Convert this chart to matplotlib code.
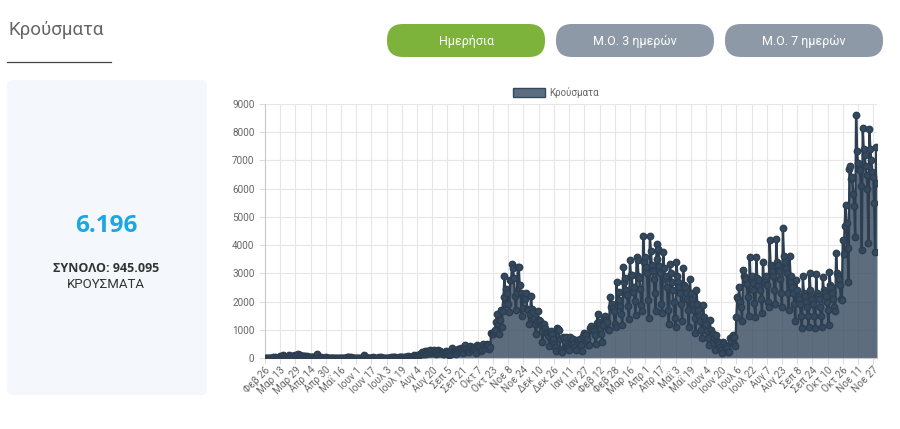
import matplotlib
matplotlib.use("Agg")
import matplotlib.pyplot as plt
from matplotlib.patches import FancyBboxPatch, Rectangle

# daily cases, 26 Feb 2020 .. 1 Dec 2021 (one row per month)
cases_2020 = [
    1, 2, 1, 0,
    0, 3, 0, 2, 22, 14, 21, 7, 11, 5, 10, 18, 73, 38, 23, 103, 56, 31, 46, 31, 35, 94, 71, 48, 78, 71, 71, 74, 95, 56, 102,
    129, 40, 103, 78, 62, 55, 77, 60, 52, 56, 20, 25, 21, 22, 24, 34, 26, 14, 17, 40, 156, 3, 27, 4, 30, 15, 9, 7, 15, 20,
    6, 11, 2, 10, 7, 6, 10, 5, 4, 0, 9, 10, 16, 3, 7, 10, 7, 6, 4, 7, 8, 18, 18, 28, 3, 20, 7, 13, 6, 4, 3,
    5, 5, 6, 4, 4, 6, 2, 10, 97, 5, 25, 5, 0, 3, 10, 12, 17, 16, 19, 4, 6, 15, 3, 4, 19, 11, 20, 6, 16, 7,
    2, 9, 12, 9, 11, 10, 12, 19, 13, 35, 37, 30, 15, 15, 11, 24, 26, 22, 30, 9, 21, 31, 33, 35, 30, 57, 23, 43, 47, 36, 39,
    110, 75, 62, 121, 82, 109, 154, 151, 203, 126, 150, 262, 156, 254, 230, 217, 187, 269, 168, 250, 204, 284, 200, 143, 209, 293, 168, 235, 195, 170, 157,
    128, 211, 241, 222, 210, 169, 99, 221, 154, 372, 229, 262, 211, 153, 263, 325, 305, 264, 339, 279, 180, 342, 453, 321, 318, 250, 233, 216, 411, 329,
    367, 387, 359, 280, 190, 460, 375, 385, 300, 234, 336, 508, 395, 350, 338, 459, 496, 452, 310, 399, 882, 840, 865, 935, 1000, 1259, 1547, 1211, 863, 1350, 1690,
    1100, 1678, 2166, 2917, 1920, 2448, 2311, 1914, 1646, 2752, 2752, 3316, 3180, 2835, 2198, 1695, 2292, 3209, 3227, 2581, 2311, 1498, 1765, 2152, 2199, 2102, 2311, 1747, 1693, 1193,
    1559, 2199, 1720, 1636, 1395, 1200, 865, 1294, 1677, 1340, 1310, 1183, 964, 550, 1193, 1200, 1049, 917, 881, 772, 434, 900, 958, 855, 681, 508, 391, 262, 1047, 1035, 987,
]
cases_2021 = [
    677, 262, 283, 200, 728, 661, 566, 749, 440, 359, 294, 735, 582, 634, 671, 515, 389, 292, 632, 602, 544, 665, 499, 466, 246, 788, 888, 864, 807, 667, 456,
    478, 1047, 1148, 999, 1021, 945, 815, 493, 1252, 1543, 1278, 1176, 1018, 851, 578, 1155, 1400, 1500, 1361, 1291, 1011, 1000, 2147, 1790, 1926, 1755, 1648, 1207,
    1100, 2702, 1853, 2353, 2061, 1829, 1567, 1159, 3215, 2702, 2824, 2408, 2222, 1826, 1376, 3465, 2937, 2948, 2322, 2522, 2011, 1513, 3586, 3465, 2900, 2850, 2431, 1867, 1655, 4322, 3400,
    3586, 3228, 3000, 2050, 1400, 4340, 3800, 3300, 3100, 2800, 2300, 1650, 4030, 3500, 3860, 3250, 3000, 1900, 1600, 3760, 3200, 2800, 2900, 2500, 1700, 1200, 3330, 3000, 2700, 2400,
    2000, 1400, 1100, 3410, 2900, 2700, 2500, 2300, 1900, 1300, 3180, 2600, 2500, 2300, 2100, 1700, 1100, 2800, 2300, 2100, 1900, 1700, 1400, 900, 2400, 1900, 1700, 1500, 1300, 1000, 700,
    1880, 1470, 1300, 1200, 950, 700, 450, 1350, 1000, 900, 850, 700, 520, 300, 815, 620, 550, 480, 400, 300, 180, 550, 480, 400, 420, 350, 220, 200, 700, 600,
    755, 826, 745, 500, 413, 1461, 2149, 2098, 2500, 2000, 1800, 1300, 3109, 2904, 2845, 2787, 2610, 2147, 1500, 3583, 2800, 2900, 2650, 2400, 1950, 1450, 3590, 2850, 2600, 2750, 2400,
    2100, 1600, 3410, 2700, 2800, 2900, 2600, 2000, 1800, 4180, 3300, 3200, 3100, 2900, 2400, 1900, 4200, 3400, 3300, 3100, 2800, 2300, 1800, 4590, 3600, 3400, 3200, 3000, 2300, 1700, 3610,
    2900, 2700, 2500, 2300, 1900, 1300, 2760, 2400, 2200, 2100, 1900, 1500, 1060, 2900, 2300, 2200, 2000, 1800, 1500, 1100, 3020, 2400, 2200, 2100, 1900, 1500, 1080, 2970, 2300, 2200,
    2100, 1800, 1500, 1100, 2860, 2400, 2300, 2200, 2000, 1700, 1170, 3060, 2600, 2500, 2300, 2100, 1800, 1660, 3730, 3000, 2900, 2800, 2600, 2100, 2050, 4180, 3700, 4670, 5420, 4800, 3900,
    2700, 6700, 6808, 6335, 6409, 5800, 5400, 4290, 8613, 7335, 6909, 6713, 6678, 6100, 3820, 8160, 7400, 7200, 6800, 6500, 6000, 4070, 8100, 7400, 7000, 6600, 6400, 5500, 3760, 7476,
    6196,
]
cases = cases_2020 + cases_2021

tick_labels = [
    "Φεβ 26", "Μαρ 13", "Μαρ 29", "Απρ 14", "Απρ 30", "Μαΐ 16", "Ιουν 1", "Ιουν 17",
    "Ιουλ 3", "Ιουλ 19", "Αυγ 4", "Αυγ 20", "Σεπ 5", "Σεπ 21", "Οκτ 7", "Οκτ 23",
    "Νοε 8", "Νοε 24", "Δεκ 10", "Δεκ 26", "Ιαν 11", "Ιαν 27", "Φεβ 12", "Φεβ 28",
    "Μαρ 16", "Απρ 1", "Απρ 17", "Μαΐ 3", "Μαΐ 19", "Ιουν 4", "Ιουν 20", "Ιουλ 6",
    "Ιουλ 22", "Αυγ 7", "Αυγ 23", "Σεπ 8", "Σεπ 24", "Οκτ 10", "Οκτ 26", "Νοε 11",
    "Νοε 27",
]
buttons = ["Ημερήσια", "Μ.Ο. 3 ημερών", "Μ.Ο. 7 ημερών"]
latest = "6.196"
total = "ΣΥΝΟΛΟ: 945.095"

W, H = 900, 429
plt.rcParams["font.family"] = ["Roboto", "DejaVu Sans"]

fig = plt.figure(figsize=(W / 100, H / 100), dpi=100)

# background layer in pixel coordinates
bg = fig.add_axes([0, 0, 1, 1])
bg.set_xlim(0, W)
bg.set_ylim(H, 0)
bg.axis("off")

bg.text(8, 30, "Κρούσματα", fontsize=13.5, color="#666666", va="center", ha="left")
bg.plot([7, 111], [62, 62], color="#444444", lw=0.9)

btn_x = [387, 556, 725]
btn_col = ["#7db33a", "#8d99a6", "#8d99a6"]
for x0, label, col in zip(btn_x, buttons, btn_col):
    bg.add_patch(FancyBboxPatch((x0, 24), 158, 33,
                                boxstyle="round,pad=0,rounding_size=16",
                                fc=col, ec="none"))
    bg.text(x0 + 79, 41, label, fontsize=9, color="white", ha="center", va="center")

bg.add_patch(FancyBboxPatch((7, 80), 200, 315, boxstyle="round,pad=0,rounding_size=6",
                            fc="#f4f7fb", ec="none"))
bg.text(106, 226, latest, fontsize=17.5, fontweight="bold", color="#1ba7e1",
        ha="center", va="center", family=["Open Sans", "DejaVu Sans"])
bg.text(106, 268, total, fontsize=9, fontweight="bold", color="#333333",
        ha="center", va="center", family=["Open Sans", "DejaVu Sans"])
bg.text(106, 285, "ΚΡΟΥΣΜΑΤΑ", fontsize=9.5, color="#333333",
        ha="center", va="center")

# legend
bg.add_patch(Rectangle((513, 88), 32, 9, fc="#5d6d80", ec="#34495e", lw=1))
bg.text(549, 92.5, "Κρούσματα", fontsize=7, color="#666666", va="center", ha="left")

# main chart
left, right, top, bottom = 265, 877, 104, 358
ax = fig.add_axes([left / W, 1 - bottom / H, (right - left) / W, (bottom - top) / H])
x = list(range(len(cases)))
ax.fill_between(x, cases, 0, color="#34495e", alpha=0.8, lw=0, zorder=2)
ax.plot(x, cases, color="#2c3e50", lw=1.7, marker="o", markersize=4.6,
        markerfacecolor="#34495e", markeredgecolor="#2c3e50", zorder=3)

ax.set_xlim(0, len(cases) - 1)
ax.set_ylim(0, 9000)
ax.set_yticks(range(0, 9001, 1000))
ax.set_xticks(range(0, len(cases), 16))
ax.set_xticklabels(tick_labels, rotation=45, ha="right", rotation_mode="anchor")
ax.tick_params(axis="both", labelsize=7.2, labelcolor="#666666", color="#dddddd",
               length=4, width=0.8)
ax.tick_params(axis="x", pad=1)
ax.grid(True, color="#e6e6e6", lw=0.8, zorder=0)
ax.set_axisbelow(True)
for side in ["top", "right"]:
    ax.spines[side].set_visible(False)
for side in ["left", "bottom"]:
    ax.spines[side].set_color("#c8c8c8")
    ax.spines[side].set_linewidth(0.8)

fig.savefig("out.png", dpi=100)
